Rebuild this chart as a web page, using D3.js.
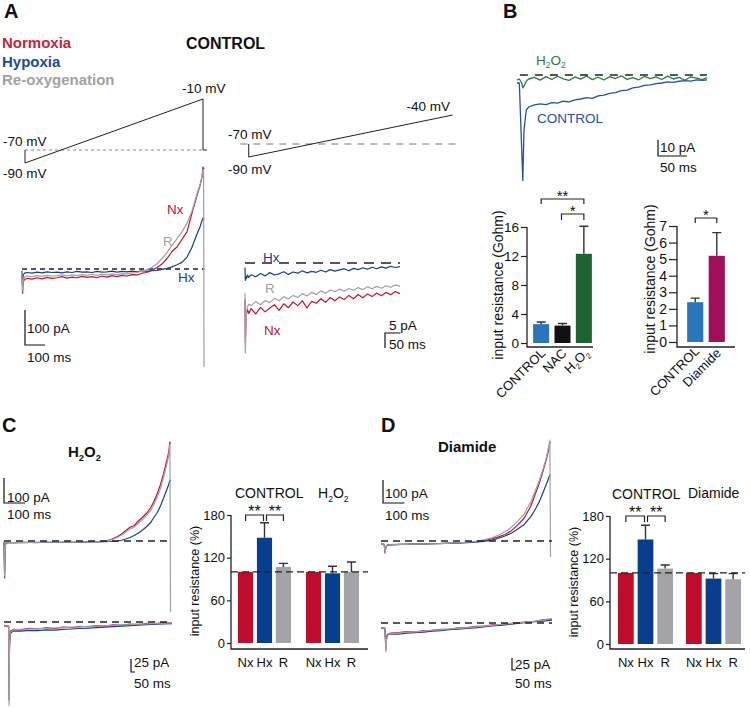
<!DOCTYPE html>
<html><head><meta charset="utf-8">
<script src="https://cdn.jsdelivr.net/npm/d3@7/dist/d3.min.js"></script>
<style>body{margin:0;background:#fff}svg{display:block}</style>
</head><body><script>
// ================= DATA =================
const legendLabels = ["Normoxia", "Hypoxia", "Re-oxygenation"];
const condLabels = ["Nx", "Hx", "R"];

// Panel A voltage protocols (time ms, mV)
const protA1_t = [15, 15, 905, 905, 925];
const protA1_mV = [-70, -90, -10, -70, -70];
const protA2_t = [12, 12, 670];
const protA2_mV = [-70, -90, -40];

// Panel A left traces (ms, pA)
const tA = [0,3,6,12,25,50,75,100,125,150,175,200,225,250,275,300,325,350,375,400,425,450,475,500,525,550,575,600,625,650,675,700,725,750,775,800,825,850,875,890,900,905,908,910];
const aNx = [-15,-69,-38,-30,-27,-29,-25,-28,-24,-27,-25,-22,-26,-23,-25,-21,-24,-22,-25,-20,-23,-19,-22,-18,-20,-16,-17,-12,-10,-3,4,14,30,50,63,85,106,160,210,238,262,291,288,285];
const aR  = [-10,-62,-34,-24,-20,-22,-19,-21,-18,-20,-19,-17,-20,-17,-19,-16,-18,-15,-18,-15,-17,-14,-16,-13,-14,-11,-10,-6,-2,5,15,30,47,68,86,106,131,166,215,240,266,283,280,-280];
const aHx = [-5,-45,-18,-12,-10,-12,-9,-11,-8,-10,-9,-11,-8,-10,-7,-9,-8,-10,-7,-9,-8,-6,-9,-7,-8,-6,-8,-5,-7,-5,-4,-1,2,6,12,19,34,62,100,120,138,146,144,142];

// Panel A right traces (ms, pA)
const tAR = [0,1,3,5,8,12,20,35,50,65,80,95,110,125,140,155,170,185,200,215,230,245,260,275,290,305,320,335,350,365,380,395,410,425,440,455,470,485,500];
const arHx = [-1.5,-5.8,-4.5,-5.2,-4.0,-4.8,-3.9,-4.6,-3.5,-4.3,-3.2,-4.0,-3.6,-2.9,-3.8,-3.0,-3.4,-2.6,-3.3,-2.8,-3.1,-2.4,-3.0,-2.2,-2.7,-2.3,-1.9,-2.6,-1.8,-2.2,-1.6,-2.1,-1.4,-1.9,-1.3,-1.7,-1.1,-1.5,-1.2];
const arR  = [-10,-30,-22,-16,-14.5,-13.8,-14.2,-12.8,-13.9,-12.5,-13.2,-11.8,-12.6,-11.2,-12.0,-10.8,-11.5,-10.2,-11.0,-9.8,-10.5,-9.3,-10.1,-9.0,-9.6,-8.7,-9.4,-8.5,-9.1,-8.2,-8.9,-7.9,-8.6,-7.8,-8.4,-7.6,-8.1,-7.3,-7.8];
const arNx = [-12,-26.5,-20,-17,-15.5,-16.8,-15.2,-17.0,-14.8,-16.3,-15.0,-13.9,-15.8,-13.6,-14.9,-13.0,-14.2,-12.6,-15.0,-12.8,-13.4,-11.9,-13.1,-11.5,-12.6,-11.3,-12.2,-10.8,-11.9,-10.5,-11.6,-10.3,-11.2,-10.0,-10.9,-9.8,-10.6,-9.5,-10.2];

// Panel B traces (ms, pA)
const tB = [0,4,8,10,12,16,20,30,40,50,60,70,80,90,100,110,120,130,140,150,160,170,180,190,200,210,220,230,240,250,260,270,280,290,300,310,320,328];
const bCtrl = [-5,-5,-45,-66,-35,-22,-20,-18.7,-18.0,-18.5,-17.3,-17.6,-16.4,-16.8,-15.5,-15.0,-14.2,-14.6,-13.0,-12.6,-11.5,-11.0,-9.8,-9.4,-8.0,-7.6,-6.5,-6.2,-5.4,-5.0,-4.3,-4.6,-3.9,-3.5,-3.8,-3.1,-3.4,-3.0];
const bH2O2 = [-3,-2.5,-5,-8,-7,-4,-2.5,-1.5,-3.2,-1.0,-2.8,-0.8,-2.4,-3.4,-1.2,-2.6,-0.6,-2.9,-1.4,-3.1,-1.0,-2.2,-0.5,-2.7,-1.6,-3.0,-0.9,-2.3,-1.2,-2.8,-0.7,-2.5,-1.5,-3.3,-1.1,-2.0,-2.9,-1.6];

// Panel B bars (Gohm)
const b1Cats = ["CONTROL", "NAC", "H2O2"];
const b1Vals = [2.6, 2.4, 12.3];
const b1Err  = [2.9, 2.7, 16.1];
const b1Ticks = [0, 4, 8, 12, 16];
const b2Cats = ["CONTROL", "Diamide"];
const b2Vals = [2.4, 5.2];
const b2Err  = [2.65, 6.6];
const b2Ticks = [0, 1, 2, 3, 4, 5, 6, 7];

// Panel C traces
const tC = [0,3,6,10,20,50,100,150,200,250,300,350,400,450,480,510,540,560,580,600,620,640,660,680,700,715,730,745,760,775,785,790,793];
const cNx = [-4,-148,-20,-8,-6,-7,-5,-7,-5,-6,-4,-6,-3,-2,0,6,18,28,42,55,62,80,95,112,135,160,190,225,270,320,360,396,390];
const cR  = [-4,-140,-18,-7,-6,-6,-5,-6,-4,-5,-4,-5,-3,-2,0,4,14,24,36,48,56,72,86,104,124,148,176,210,256,305,345,384,-284];
const cHx = [-3,-120,-15,-8,-7,-6,-7,-5,-6,-5,-6,-5,-4,-4,-3,-2,0,3,8,14,22,32,44,58,76,96,114,140,172,205,228,244,240];
const tC2 = [0,12,22,24,26,30,45,80,120,160,200,240,280,320,360,400,440,480,520,560,600,640,680,720,760,800];
const c2R  = [-8,-8,-7,-160,-60,-20,-15,-14,-13.5,-13,-12,-11.5,-11,-10,-9.5,-8.5,-8,-7,-6.5,-5.5,-5,-4,-3.5,-2.5,-2,-1.5];
const c2Nx = [-7,-9,-8,-150,-50,-18,-14,-15,-12,-13.5,-11,-12.5,-10,-11,-8.5,-9.5,-7,-8,-5.5,-6.5,-4,-5,-2.5,-3.5,-1,-2];
const c2Hx = [-8,-8,-8,-100,-40,-22,-17,-17.5,-16,-16.5,-15,-15.5,-14,-13.5,-12.5,-12,-11,-10,-9,-8,-7,-6,-5,-4,-3.5,-3];

// Panel C bars (%)
const cGroups = ["CONTROL", "H2O2"];
const cVals = [[100, 148, 107], [100, 98, 100]];
const cErr  = [[100, 169, 112], [100, 108, 114]];

// Panel D traces
const tD = [0,15,19,23,30,60,100,150,200,250,300,350,400,440,480,520,550,580,610,640,670,700,720,740,760,775,785,790,793];
const dNx = [-14,-15,-52,-25,-17,-16,-15,-14,-13,-12,-10,-8,-6,-3,2,10,18,28,45,70,100,150,200,250,310,360,400,430,425];
const dR  = [-14,-15,-52,-25,-17,-16,-15,-14,-13,-12,-10,-8,-5,-2,5,14,26,40,60,86,118,168,215,262,318,368,412,439,-70];
const dHx = [-14,-15,-45,-24,-18,-16,-15,-14,-13,-12,-10,-9,-7,-5,-2,4,12,22,34,52,72,105,135,170,215,250,275,287,283];
const tD2 = [0,18,23,26,30,45,80,120,160,200,240,280,320,360,400,440,480,520,560,600,640,680,720,760,800];
const dR2  = [-10,-10,-60,-35,-26,-22,-21,-19,-18.5,-17,-15,-14,-12.5,-11,-9.5,-8,-6.5,-5,-3,-1.5,0,2,4,6,9];
const dNx2 = [-10,-11,-55,-30,-24,-21,-20,-18,-19,-16,-15.5,-13,-13,-10,-10,-7,-7,-4,-3.5,-1,0.5,2.5,3.5,7,8];
const dHx2 = [-10,-11,-45,-30,-25,-23,-23,-21,-20,-19,-17,-16,-14,-13,-11,-10,-8,-6,-5,-3,-1,1,3,4,6];

// Panel D bars (%)
const dGroups = ["CONTROL", "Diamide"];
const dVals = [[100, 147, 106], [100, 92, 91]];
const dErr  = [[100, 167, 111], [100, 99, 99]];
const pctTicks = [0, 60, 120, 180];

// ================= STYLE =================
const FONT = '"Liberation Sans", Arial, Helvetica, sans-serif';
const col = {
  nxT: "#c8122f", hxT: "#123f9a", rT: "#a0a0a4",
  nxL: "#c81f3c", hxL: "#1e4a9c", rL: "#a2a2a2",
  nxB: "#c00c2b", hxB: "#073f8e", rB: "#a3a3a8",
  ctrlT: "#2350ad", h2o2T: "#2e7b3e",
  ctrlB: "#2a76bb", nacB: "#111111", h2o2B: "#1d6331", diamB: "#a00e5c",
  ink: "#1a1a1a"
};

const svg = d3.select("body").append("svg")
  .attr("width", 750).attr("height", 708)
  .attr("font-family", FONT);

function addText(x, y, str, o = {}) {
  const fs = o.size || 13.5;
  const t = svg.append("text").attr("x", x).attr("y", y)
    .attr("font-size", fs).attr("fill", o.color || "#111")
    .attr("font-weight", o.bold ? "bold" : "normal")
    .attr("text-anchor", o.anchor || "start");
  if (o.rotate != null) t.attr("transform", `rotate(${o.rotate},${x},${y})`);
  if (Array.isArray(str)) {
    let shift = 0;
    str.forEach(p => {
      const ts = t.append("tspan").text(p[0]);
      const target = p[1] ? fs * 0.25 : 0;
      if (target !== shift) { ts.attr("dy", target - shift); shift = target; }
      if (p[1]) ts.attr("font-size", fs * 0.62);
    });
  } else t.text(str);
  return t;
}
const h2o2 = [["H", 0], ["2", 1], ["O", 0], ["2", 1]];

function drawTrace(x, y, t, v, color, w) {
  svg.append("path")
    .attr("d", d3.line().x((d, i) => x(t[i])).y(d => y(d))(v))
    .attr("fill", "none").attr("stroke", color).attr("stroke-width", w || 1.2)
    .attr("stroke-linejoin", "round");
}
function hDash(x1, x2, y, dash, color, w) {
  svg.append("line").attr("x1", x1).attr("x2", x2).attr("y1", y).attr("y2", y)
    .attr("stroke", color || "#222").attr("stroke-width", w || 1.3).attr("stroke-dasharray", dash);
}
function scaleBar(x0, y0, w, h, lab1, lab2, l1y, l2y, lx) {
  svg.append("path").attr("d", `M${x0},${y0 - h}V${y0}H${x0 + w}`)
    .attr("fill", "none").attr("stroke", "#111").attr("stroke-width", 1.2);
  addText(lx, l1y, lab1);
  addText(lx, l2y, lab2);
}

// ================= PANEL A =================
addText(4, 18, "A", { size: 20, bold: true });
legendLabels.forEach((s, i) => addText(2, 48 + i * 18.5, s, { size: 15, bold: true, color: [col.nxL, col.hxL, col.rL][i] }));
addText(186, 49, "CONTROL", { size: 16, bold: true });

// protocol 1
const xA = d3.scaleLinear().domain([0, 915]).range([22, 205]);
const yA = d3.scaleLinear().domain([0, 100]).range([269, 234]);
const vA1 = d3.scaleLinear().domain([-90, -70, -10]).range([163, 150, 99]);
hDash(xA(15), xA(915), vA1(-70), "3,3", "#888", 1);
drawTrace(xA, vA1, protA1_t, protA1_mV, "#222", 1);
addText(3, 146, "-70 mV");
addText(3, 178, "-90 mV");
addText(182, 93, "-10 mV");

// traces A left
hDash(xA(0), xA(912), yA(0), "5,4", "#222", 1.3);
drawTrace(xA, yA, tA, aNx, col.nxT, 1.2);
drawTrace(xA, yA, tA, aHx, col.hxT, 1.2);
drawTrace(xA, yA, tA, aR, col.rT, 1.2);
addText(167, 214, "Nx", { color: col.nxT });
addText(163, 246, "R", { color: col.rT });
addText(178, 282, "Hx", { color: col.hxT });
scaleBar(25, 345, xA(100) - xA(0), yA(0) - yA(100), "100 pA", "100 ms", 333, 362, 27);

// protocol 2
const xAR = d3.scaleLinear().domain([0, 500]).range([245, 400]);
const yAR = d3.scaleLinear().domain([0, -10]).range([263, 293]);
const vA2 = d3.scaleLinear().domain([-90, -70, -40]).range([157, 144, 115]);
hDash(xAR(-15), xAR(680), vA2(-70), "7,6", "#777", 1);
drawTrace(xAR, vA2, protA2_t, protA2_mV, "#222", 1);
addText(228, 139, "-70 mV");
addText(228, 174, "-90 mV");
addText(450, 111, "-40 mV", { anchor: "end" });

// traces A right
drawTrace(xAR, yAR, tAR, arNx, col.nxT, 1.2);
drawTrace(xAR, yAR, tAR, arR, col.rT, 1.2);
drawTrace(xAR, yAR, tAR, arHx, col.hxT, 1.2);
hDash(xAR(0), xAR(500), yAR(0), "10,7", "#222", 1.5);
addText(263, 262, "Hx", { color: col.hxT });
addText(265, 293, "R", { color: col.rT });
addText(264, 335, "Nx", { color: col.nxT });
scaleBar(385, 333, xAR(50) - xAR(0), yAR(0) - yAR(-5), "5 pA", "50 ms", 330, 349, 389);

// ================= PANEL B =================
addText(503, 18, "B", { size: 20, bold: true });
const xB = d3.scaleLinear().domain([0, 328]).range([517, 707]);
const yB = d3.scaleLinear().domain([0, -10]).range([75, 91]);
drawTrace(xB, yB, tB, bCtrl, col.ctrlT, 1.3);
drawTrace(xB, yB, tB, bH2O2, col.h2o2T, 1.3);
hDash(xB(5), xB(328), yB(0), "8,7", "#222", 1.3);
addText(536, 65, h2o2, { color: col.h2o2T });
addText(537, 123, "CONTROL", { color: col.ctrlT });
scaleBar(658, 156, xB(50) - xB(0), yB(-10) - yB(0), "10 pA", "50 ms", 152, 172, 660);

function axisL(y, ticks, x, fs, ts) {
  const a = svg.append("g").attr("transform", `translate(${x},0)`)
    .call(d3.axisLeft(y).tickValues(ticks).tickFormat(d3.format("d")).tickSize(ts || 4).tickPadding(2));
  a.attr("font-family", FONT).attr("font-size", fs);
  a.select(".domain").remove();
  a.selectAll("line").attr("stroke", "#222").attr("stroke-width", 1.2);
  a.selectAll("text").attr("fill", "#111");
}
function frame(x, yTop, yBase, xEnd) {
  svg.append("path").attr("d", `M${x},${yTop}V${yBase}H${xEnd}`)
    .attr("fill", "none").attr("stroke", "#222").attr("stroke-width", 1.3);
}
function errBar(cx, y1, y2, hw) {
  svg.append("path").attr("d", `M${cx},${y1}V${y2}M${cx - hw},${y2}H${cx + hw}`)
    .attr("fill", "none").attr("stroke", "#333").attr("stroke-width", 1.4);
}
function bracket(x1, x2, y, leg, stars, fs) {
  svg.append("path").attr("d", `M${x1},${y + leg}V${y}H${x2}V${y + leg}`)
    .attr("fill", "none").attr("stroke", "#222").attr("stroke-width", 1.2);
  addText((x1 + x2) / 2, y + 2, stars, { size: fs, anchor: "middle" });
}

// B1 bars
const yB1 = d3.scaleLinear().domain([0, 16]).range([343, 227]);
const xB1 = d3.scaleBand().domain(b1Cats).range([531, 594]).paddingInner(0.25).paddingOuter(0.1);
const b1Col = [col.ctrlB, col.nacB, col.h2o2B];
b1Cats.forEach((c, i) => {
  svg.append("rect").attr("x", xB1(c)).attr("y", yB1(b1Vals[i])).attr("width", xB1.bandwidth())
    .attr("height", yB1(0) - yB1(b1Vals[i])).attr("fill", b1Col[i]);
  errBar(xB1(c) + xB1.bandwidth() / 2, yB1(b1Vals[i]), yB1(b1Err[i]), 4.5);
});
axisL(yB1, b1Ticks, 527, 13.5, 6);
frame(527, yB1(16), 347, 593);
const cB1 = c => xB1(c) + xB1.bandwidth() / 2;
bracket(cB1("CONTROL"), cB1("H2O2"), 199, 5, "**", 15);
bracket(cB1("NAC") - 1, cB1("H2O2"), 214, 6, "*", 15);
addText(cB1("CONTROL") + 5, 354, "CONTROL", { size: 13, anchor: "end", rotate: -45 });
addText(cB1("NAC") + 5, 354, "NAC", { size: 13, anchor: "end", rotate: -45 });
addText(cB1("H2O2") + 6, 354, h2o2, { size: 13, anchor: "end", rotate: -45 });
addText(503, 285, "input resistance (Gohm)", { size: 14, anchor: "middle", rotate: -90 });

// B2 bars
const yB2 = d3.scaleLinear().domain([0, 7]).range([342, 226]);
const xB2 = d3.scaleBand().domain(b2Cats).range([685, 727]).paddingInner(0.25).paddingOuter(0.1);
const b2Col = [col.ctrlB, col.diamB];
b2Cats.forEach((c, i) => {
  svg.append("rect").attr("x", xB2(c)).attr("y", yB2(b2Vals[i])).attr("width", xB2.bandwidth())
    .attr("height", yB2(0) - yB2(b2Vals[i])).attr("fill", b2Col[i]);
  errBar(xB2(c) + xB2.bandwidth() / 2, yB2(b2Vals[i]), yB2(b2Err[i]), 4.5);
});
axisL(yB2, b2Ticks, 677, 14, 8);
frame(677, yB2(7), 347, 735);
const cB2 = c => xB2(c) + xB2.bandwidth() / 2;
bracket(cB2("CONTROL"), cB2("Diamide"), 218, 5, "*", 15);
addText(cB2("CONTROL") + 5, 352, "CONTROL", { size: 13, anchor: "end", rotate: -45 });
addText(cB2("Diamide") + 5, 354, "Diamide", { size: 13, anchor: "end", rotate: -45 });
addText(655, 279, "input resistance (Gohm)", { size: 14, anchor: "middle", rotate: -90 });

// ================= PANEL C / D shared bar chart =================
function pctChart(o) {
  const y = d3.scaleLinear().domain([0, 180]).range([o.y0, o.y180]);
  const x0 = d3.scaleBand().domain(o.groups).range(o.xr).paddingInner(o.pin);
  const x1 = d3.scaleBand().domain(condLabels).range([0, x0.bandwidth()]).paddingInner(0.2);
  const bc = [col.nxB, col.hxB, col.rB];
  const centers = {};
  o.groups.forEach((g, gi) => {
    condLabels.forEach((c, ci) => {
      const bx = x0(g) + x1(c), v = o.vals[gi][ci], cx = bx + x1.bandwidth() / 2;
      centers[g + c] = cx;
      svg.append("rect").attr("x", bx).attr("y", y(v)).attr("width", x1.bandwidth())
        .attr("height", y(0) - y(v)).attr("fill", bc[ci]);
      if (o.errs[gi][ci] > v) errBar(cx, y(v), y(o.errs[gi][ci]), 4.5);
      addText(cx, o.labY, c, { size: 13, anchor: "middle" });
    });
  });
  axisL(y, pctTicks, o.ax, 13, 4);
  frame(o.ax, y(180), o.base, o.xEnd);
  hDash(o.ax, o.xEnd, y(100), "7,4", "#222", 1.3);
  const g0 = o.groups[0];
  bracket(centers[g0 + "Nx"], centers[g0 + "Hx"] - 1, y(180), 6, "**", 16);
  bracket(centers[g0 + "Hx"] + 2, centers[g0 + "R"], y(180), 6, "**", 16);
  return centers;
}

// ================= PANEL C =================
addText(2, 432, "C", { size: 20, bold: true });
addText(68, 457, h2o2, { size: 15, bold: true });
const xC = d3.scaleLinear().domain([0, 800]).range([4, 172]);
const yC = d3.scaleLinear().domain([0, 100]).range([541, 516]);
drawTrace(xC, yC, tC, cNx, col.nxT, 1.2);
drawTrace(xC, yC, tC, cHx, col.hxT, 1.2);
drawTrace(xC, yC, tC, cR, col.rT, 1.2);
hDash(xC(0), xC(800), yC(0), "7,5", "#222", 1.3);
scaleBar(4, 503, xC(100) - xC(0), yC(0) - yC(100), "100 pA", "100 ms", 502, 519, 7);
const yC2 = d3.scaleLinear().domain([0, -25]).range([622, 635]);
drawTrace(xC, yC2, tC2, c2Hx, col.hxT, 1.2);
drawTrace(xC, yC2, tC2, c2Nx, col.nxT, 1.2);
drawTrace(xC, yC2, tC2, c2R, col.rT, 1.2);
hDash(xC(0), xC(800), yC2(0), "7,5", "#222", 1.3);
scaleBar(131, 672, 4, yC2(-25) - yC2(0), "25 pA", "50 ms", 667, 688, 134);

pctChart({ groups: cGroups, vals: cVals, errs: cErr, y0: 643, y180: 515,
  xr: [238, 359], pin: 0.221, ax: 231, base: 649, xEnd: 368, labY: 667 });
addText(235, 498, "CONTROL", { size: 14 });
addText(318, 498, h2o2, { size: 14 });
addText(199, 581, "input resistance (%)", { size: 12.5, anchor: "middle", rotate: -90 });

// ================= PANEL D =================
addText(381, 432, "D", { size: 20, bold: true });
addText(438, 452, "Diamide", { size: 15, bold: true });
const xD = d3.scaleLinear().domain([0, 800]).range([381, 552]);
const yD = d3.scaleLinear().domain([0, 100]).range([541, 518]);
drawTrace(xD, yD, tD, dNx, col.nxT, 1.2);
drawTrace(xD, yD, tD, dHx, col.hxT, 1.2);
drawTrace(xD, yD, tD, dR, col.rT, 1.2);
hDash(xD(0), xD(800), yD(0), "7,5", "#222", 1.3);
scaleBar(383, 503, xD(100) - xD(0), yD(0) - yD(100), "100 pA", "100 ms", 498, 520, 385);
const yD2 = d3.scaleLinear().domain([0, -25]).range([623, 635]);
drawTrace(xD, yD2, tD2, dHx2, col.hxT, 1.2);
drawTrace(xD, yD2, tD2, dNx2, col.nxT, 1.2);
drawTrace(xD, yD2, tD2, dR2, col.rT, 1.2);
hDash(xD(0), xD(800), yD2(0), "7,5", "#222", 1.3);
scaleBar(512, 670, 4, yD2(-25) - yD2(0), "25 pA", "50 ms", 669, 688, 515);

pctChart({ groups: dGroups, vals: dVals, errs: dErr, y0: 644, y180: 516,
  xr: [618, 741], pin: 0.191, ax: 610, base: 649, xEnd: 745, labY: 667 });
addText(612, 499, "CONTROL", { size: 14 });
addText(688, 498, "Diamide", { size: 14 });
addText(578, 582, "input resistance (%)", { size: 12.5, anchor: "middle", rotate: -90 });
</script></body></html>
